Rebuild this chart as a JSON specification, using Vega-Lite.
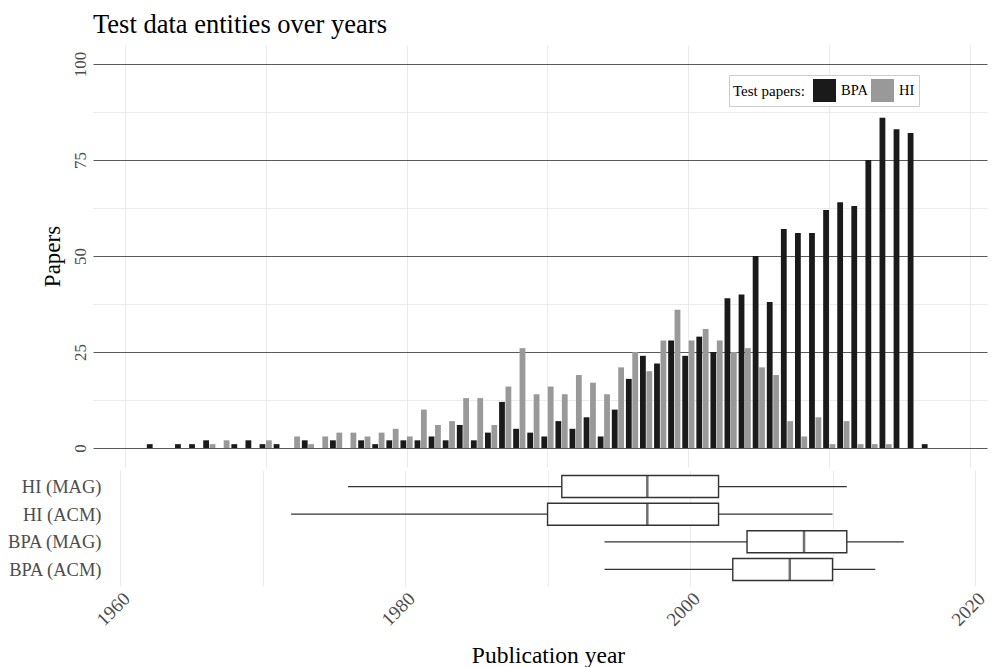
{
  "$schema": "https://vega.github.io/schema/vega-lite/v6.json",
  "background": "white",
  "padding": {"left": 6, "top": 11, "right": 0, "bottom": 0},
  "title": {
    "text": "Test data entities over years",
    "anchor": "start",
    "frame": "group",
    "font": "Liberation Serif",
    "fontSize": 26.5,
    "fontWeight": "normal",
    "color": "#000000",
    "offset": 7
  },
  "datasets": {
    "counts": [
      {"year": 1962, "group": "BPA", "n": 1},
      {"year": 1964, "group": "BPA", "n": 1},
      {"year": 1965, "group": "BPA", "n": 1},
      {"year": 1966, "group": "BPA", "n": 2},
      {"year": 1968, "group": "BPA", "n": 1},
      {"year": 1969, "group": "BPA", "n": 2},
      {"year": 1970, "group": "BPA", "n": 1},
      {"year": 1971, "group": "BPA", "n": 1},
      {"year": 1973, "group": "BPA", "n": 2},
      {"year": 1975, "group": "BPA", "n": 2},
      {"year": 1977, "group": "BPA", "n": 2},
      {"year": 1978, "group": "BPA", "n": 1},
      {"year": 1979, "group": "BPA", "n": 2},
      {"year": 1980, "group": "BPA", "n": 2},
      {"year": 1981, "group": "BPA", "n": 2},
      {"year": 1982, "group": "BPA", "n": 3},
      {"year": 1983, "group": "BPA", "n": 2},
      {"year": 1984, "group": "BPA", "n": 6},
      {"year": 1985, "group": "BPA", "n": 2},
      {"year": 1986, "group": "BPA", "n": 4},
      {"year": 1987, "group": "BPA", "n": 12},
      {"year": 1988, "group": "BPA", "n": 5},
      {"year": 1989, "group": "BPA", "n": 4},
      {"year": 1990, "group": "BPA", "n": 3},
      {"year": 1991, "group": "BPA", "n": 7},
      {"year": 1992, "group": "BPA", "n": 5},
      {"year": 1993, "group": "BPA", "n": 8},
      {"year": 1994, "group": "BPA", "n": 3},
      {"year": 1995, "group": "BPA", "n": 10},
      {"year": 1996, "group": "BPA", "n": 18},
      {"year": 1997, "group": "BPA", "n": 24},
      {"year": 1998, "group": "BPA", "n": 22},
      {"year": 1999, "group": "BPA", "n": 28},
      {"year": 2000, "group": "BPA", "n": 24},
      {"year": 2001, "group": "BPA", "n": 29},
      {"year": 2002, "group": "BPA", "n": 25},
      {"year": 2003, "group": "BPA", "n": 39},
      {"year": 2004, "group": "BPA", "n": 40},
      {"year": 2005, "group": "BPA", "n": 50},
      {"year": 2006, "group": "BPA", "n": 38},
      {"year": 2007, "group": "BPA", "n": 57},
      {"year": 2008, "group": "BPA", "n": 56},
      {"year": 2009, "group": "BPA", "n": 56},
      {"year": 2010, "group": "BPA", "n": 62},
      {"year": 2011, "group": "BPA", "n": 64},
      {"year": 2012, "group": "BPA", "n": 63},
      {"year": 2013, "group": "BPA", "n": 75},
      {"year": 2014, "group": "BPA", "n": 86},
      {"year": 2015, "group": "BPA", "n": 83},
      {"year": 2016, "group": "BPA", "n": 82},
      {"year": 2017, "group": "BPA", "n": 1},
      {"year": 1966, "group": "HI", "n": 1},
      {"year": 1967, "group": "HI", "n": 2},
      {"year": 1970, "group": "HI", "n": 2},
      {"year": 1972, "group": "HI", "n": 3},
      {"year": 1973, "group": "HI", "n": 1},
      {"year": 1974, "group": "HI", "n": 3},
      {"year": 1975, "group": "HI", "n": 4},
      {"year": 1976, "group": "HI", "n": 4},
      {"year": 1977, "group": "HI", "n": 3},
      {"year": 1978, "group": "HI", "n": 4},
      {"year": 1979, "group": "HI", "n": 5},
      {"year": 1980, "group": "HI", "n": 3},
      {"year": 1981, "group": "HI", "n": 10},
      {"year": 1982, "group": "HI", "n": 6},
      {"year": 1983, "group": "HI", "n": 7},
      {"year": 1984, "group": "HI", "n": 13},
      {"year": 1985, "group": "HI", "n": 13},
      {"year": 1986, "group": "HI", "n": 6},
      {"year": 1987, "group": "HI", "n": 16},
      {"year": 1988, "group": "HI", "n": 26},
      {"year": 1989, "group": "HI", "n": 14},
      {"year": 1990, "group": "HI", "n": 16},
      {"year": 1991, "group": "HI", "n": 14},
      {"year": 1992, "group": "HI", "n": 19},
      {"year": 1993, "group": "HI", "n": 17},
      {"year": 1994, "group": "HI", "n": 14},
      {"year": 1995, "group": "HI", "n": 21},
      {"year": 1996, "group": "HI", "n": 25},
      {"year": 1997, "group": "HI", "n": 20},
      {"year": 1998, "group": "HI", "n": 28},
      {"year": 1999, "group": "HI", "n": 36},
      {"year": 2000, "group": "HI", "n": 28},
      {"year": 2001, "group": "HI", "n": 31},
      {"year": 2002, "group": "HI", "n": 28},
      {"year": 2003, "group": "HI", "n": 25},
      {"year": 2004, "group": "HI", "n": 26},
      {"year": 2005, "group": "HI", "n": 21},
      {"year": 2006, "group": "HI", "n": 19},
      {"year": 2007, "group": "HI", "n": 7},
      {"year": 2008, "group": "HI", "n": 3},
      {"year": 2009, "group": "HI", "n": 8},
      {"year": 2010, "group": "HI", "n": 1},
      {"year": 2011, "group": "HI", "n": 7},
      {"year": 2012, "group": "HI", "n": 1},
      {"year": 2013, "group": "HI", "n": 1},
      {"year": 2014, "group": "HI", "n": 1}
    ],
    "boxes": [
      {"source": "HI (MAG)", "lower": 1976, "q1": 1991, "median": 1997, "q3": 2002, "upper": 2011},
      {"source": "HI (ACM)", "lower": 1972, "q1": 1990, "median": 1997, "q3": 2002, "upper": 2010},
      {"source": "BPA (MAG)", "lower": 1994, "q1": 2004, "median": 2008, "q3": 2011, "upper": 2015},
      {"source": "BPA (ACM)", "lower": 1994, "q1": 2003, "median": 2007, "q3": 2010, "upper": 2013}
    ]
  },
  "vconcat": [
    {
      "width": 894,
      "height": 422,
      "data": {"name": "counts"},
      "layer": [
        {
          "transform": [{"filter": "datum.group === 'BPA'"}],
          "mark": {"type": "bar", "width": 5.8, "xOffset": -3.2},
          "encoding": {
            "x": {
              "field": "year",
              "type": "quantitative",
              "scale": {"domain": [1958.1, 2020.84], "nice": false, "zero": false},
              "axis": {"values": [1960, 1970, 1980, 1990, 2000, 2010, 2020], "labels": false, "title": null, "grid": true}
            },
            "y": {
              "field": "n",
              "type": "quantitative",
              "scale": {"domain": [-4.95, 104.95], "nice": false, "zero": false},
              "axis": {
                "values": [0, 12.5, 25, 37.5, 50, 62.5, 75, 87.5, 100],
                "labelExpr": "datum.value % 25 === 0 ? datum.label : ''",
                "gridColor": {"condition": {"test": "datum.value % 25 === 0", "value": "#5a5a5a"}, "value": "#ebebeb"},
                "labelAngle": -90,
                "labelFontSize": 17,
                "labelPadding": 4,
                "title": "Papers",
                "titleFontSize": 23,
                "titlePadding": 7
              }
            },
            "y2": {"datum": 0},
            "color": {
              "field": "group",
              "type": "nominal",
              "scale": {"domain": ["BPA", "HI"], "range": ["#1a1a1a", "#999999"]},
              "legend": {
                "orient": "none",
                "legendX": 636,
                "legendY": 30,
                "direction": "horizontal",
                "title": "Test papers:",
                "titleOrient": "left",
                "titleFont": "Liberation Serif",
                "titleFontSize": 15,
                "titleFontWeight": "normal",
                "titleColor": "#000000",
                "titlePadding": 8,
                "labelFont": "Liberation Serif",
                "labelFontSize": 14.5,
                "labelColor": "#000000",
                "labelOffset": 5,
                "columnPadding": 3,
                "symbolType": "square",
                "symbolSize": 529,
                "symbolStrokeWidth": 0,
                "symbolOpacity": 1,
                "strokeColor": "#cccccc",
                "fillColor": "#ffffff",
                "padding": 4
              }
            }
          }
        },
        {
          "transform": [{"filter": "datum.group === 'HI'"}],
          "mark": {"type": "bar", "width": 5.8, "xOffset": 3.2},
          "encoding": {
            "x": {"field": "year", "type": "quantitative"},
            "y": {"field": "n", "type": "quantitative"},
            "y2": {"datum": 0},
            "color": {"field": "group", "type": "nominal"}
          }
        }
      ]
    },
    {
      "width": 894,
      "height": 116,
      "data": {"name": "boxes"},
      "encoding": {
        "y": {
          "field": "source",
          "type": "nominal",
          "sort": ["HI (MAG)", "HI (ACM)", "BPA (MAG)", "BPA (ACM)"],
          "scale": {"type": "point", "padding": 0.6},
          "axis": {"title": null, "labelFontSize": 18.5, "labelPadding": -8, "grid": false}
        }
      },
      "layer": [
        {
          "mark": {"type": "rule", "color": "#333333", "strokeWidth": 1.3},
          "encoding": {
            "x": {
              "field": "lower",
              "type": "quantitative",
              "scale": {"domain": [1958.1, 2020.84], "nice": false, "zero": false},
              "axis": {
                "values": [1960, 1970, 1980, 1990, 2000, 2010, 2020],
                "labelExpr": "datum.value % 20 === 0 ? datum.label : ''",
                "format": "d",
                "labelAngle": -45,
                "labelFontSize": 19,
                "labelPadding": 3,
                "grid": true,
                "title": "Publication year",
                "titleFontSize": 23.5,
                "titlePadding": 14,
                "titleX": 455
              }
            },
            "x2": {"field": "upper"}
          }
        },
        {
          "mark": {"type": "bar", "height": 22, "fill": "#ffffff", "stroke": "#333333", "strokeWidth": 1.4},
          "encoding": {
            "x": {"field": "q1", "type": "quantitative"},
            "x2": {"field": "q3"}
          }
        },
        {
          "mark": {"type": "tick", "color": "#333333", "thickness": 2.5, "size": 22, "orient": "vertical"},
          "encoding": {
            "x": {"field": "median", "type": "quantitative"}
          }
        }
      ]
    }
  ],
  "spacing": 3,
  "config": {
    "font": "Liberation Serif",
    "view": {"stroke": null},
    "axis": {
      "labelFont": "Liberation Serif",
      "titleFont": "Liberation Serif",
      "labelColor": "#4d4d4d",
      "titleColor": "#000000",
      "titleFontWeight": "normal",
      "domain": false,
      "ticks": false,
      "gridColor": "#ebebeb",
      "gridWidth": 1
    }
  }
}
